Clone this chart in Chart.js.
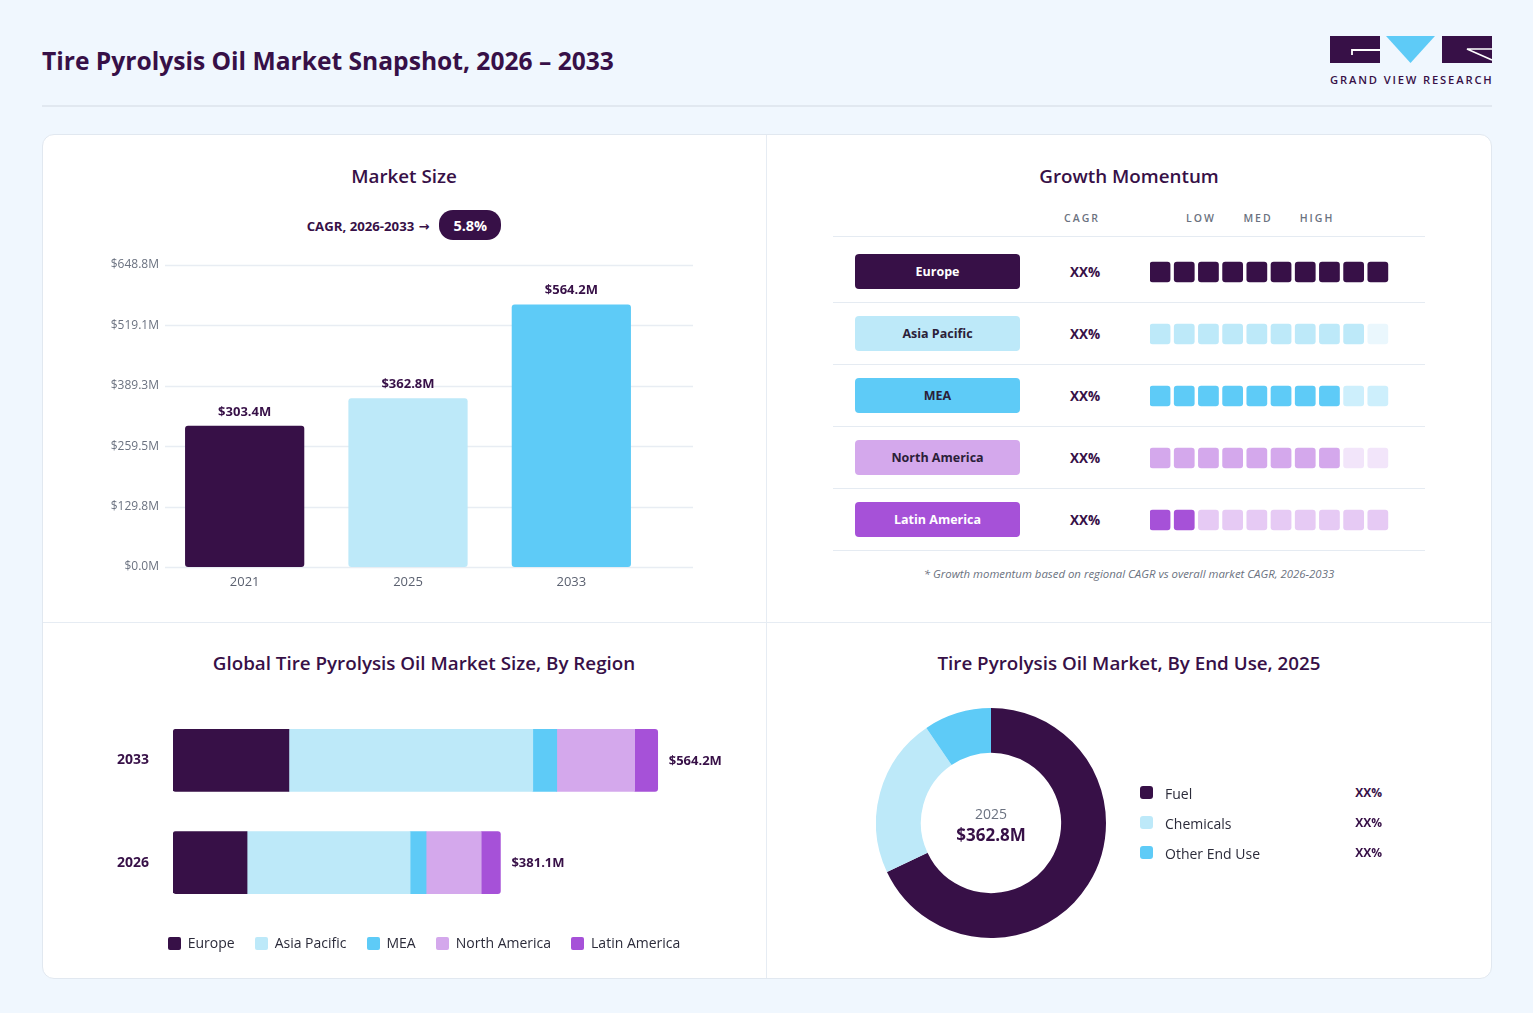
<!DOCTYPE html>
<html><head><meta charset="utf-8">
<script src="https://cdn.jsdelivr.net/npm/chart.js@4.4.1/dist/chart.umd.min.js"></script>
<style>
*{box-sizing:border-box;margin:0;padding:0}
body{width:1533px;height:1013px;background:#f0f7fe;font-family:"Open Sans","Noto Sans",sans-serif;color:#371047;position:relative;overflow:hidden}
.abs{position:absolute}
#title{left:42px;top:44px;font-size:24.6px;font-weight:700;white-space:nowrap;line-height:34px}
#sep{left:42px;top:105px;width:1450px;height:2px;background:#e1e8f0}
#card{left:42px;top:134px;width:1450px;height:845px;background:#fff;border:1px solid #e1e8f0;border-radius:12px}
.vdiv{left:766px;top:135px;width:1px;height:843px;background:#e6ecf3}
.hdiv{left:43px;top:622px;width:1448px;height:1px;background:#e6ecf3}
.ptitle{font-size:18.8px;font-weight:600;white-space:nowrap;line-height:24px;transform:translateX(-50%);color:#371047}
#cagrRow{left:42px;top:210px;width:724px;height:30px;display:flex;justify-content:center;align-items:center;gap:10px}
#cagrRow .lbl{font-size:13.2px;font-weight:700}
#cagrRow .arr{font-family:"DejaVu Sans",sans-serif;font-size:13px;font-weight:700}
#cagrRow .pill{background:#371047;color:#fff;border-radius:14px;height:30px;width:62px;display:flex;align-items:center;justify-content:center;font-size:14.5px;font-weight:700}
.hdr{font-size:10.5px;font-weight:600;letter-spacing:2px;color:#6b7280;transform:translateX(-50%);top:210px;line-height:16px}
.rowline{left:833px;width:592px;height:1px;background:#e5ebf2}
.rpill{left:855px;width:165px;height:35px;border-radius:4px;display:flex;align-items:center;justify-content:center;font-size:12.5px;font-weight:700}
.xx{font-size:13.5px;font-weight:700;transform:translateX(-50%);line-height:20px}
#foot{left:1129px;top:566px;transform:translateX(-50%);font-size:11.4px;font-style:italic;color:#6b7280;white-space:nowrap;line-height:16px}
#regLegend{left:42px;top:933px;width:764px;display:flex;justify-content:center;gap:20px;font-size:14px;color:#2b2b3a;line-height:20px}
#regLegend .it{display:flex;align-items:center;gap:7px}
#regLegend .sw{width:13px;height:13px;border-radius:2px}
#donutCenter{left:876px;top:708px;width:230px;height:230px}
#dc1{position:absolute;left:0;width:230px;top:97px;text-align:center;font-size:14px;color:#6b7280;line-height:18px}
#dc2{position:absolute;left:0;width:230px;top:115px;text-align:center;font-size:17px;font-weight:700;color:#371047;line-height:24px}
.dl-sw{left:1140px;width:13px;height:13px;border-radius:3px}
.dl-t{left:1165px;font-size:14px;color:#2b2b3a;line-height:20px}
.dl-v{left:1300px;width:82px;text-align:right;font-size:12px;font-weight:700;line-height:20px}
#logoTxt{left:1330px;top:72px;font-size:11.2px;font-weight:600;letter-spacing:1.85px;white-space:nowrap;line-height:16px;color:#371047}
canvas{position:absolute}
</style></head>
<body>
<div id="title" class="abs">Tire Pyrolysis Oil Market Snapshot, 2026 – 2033</div>
<svg class="abs" style="left:1330px;top:36px" width="163" height="28" viewBox="0 0 163 28">
  <rect x="0" y="0" width="50" height="27" fill="#371047"/>
  <path d="M22,19 L22,14 L50,14" stroke="#fff" stroke-width="1.8" fill="none"/>
  <polygon points="56,0 105,0 80.5,27" fill="#5ecbf7"/>
  <rect x="112" y="0" width="50" height="27" fill="#371047"/>
  <path d="M162,13 L137,13 L162,24" stroke="#fff" stroke-width="1.6" fill="none"/>
</svg>
<div id="logoTxt" class="abs">GRAND VIEW RESEARCH</div>
<div id="sep" class="abs"></div>
<div id="card" class="abs"></div>
<div class="abs vdiv"></div>
<div class="abs hdiv"></div>

<div class="abs ptitle" style="left:404px;top:164px">Market Size</div>
<div class="abs ptitle" style="left:1129px;top:164px">Growth Momentum</div>
<div class="abs ptitle" style="left:424px;top:651px">Global Tire Pyrolysis Oil Market Size, By Region</div>
<div class="abs ptitle" style="left:1129px;top:651px">Tire Pyrolysis Oil Market, By End Use, 2025</div>

<div id="cagrRow" class="abs"><span><span class="lbl" id="cagrLbl"></span> <span class="arr">&#8594;</span></span><span class="pill" id="cagrVal"></span></div>

<div id="momentum"></div>
<div id="foot" class="abs">* Growth momentum based on regional CAGR vs overall market CAGR, 2026-2033</div>

<canvas id="sizeChart" width="620" height="342" style="left:88px;top:250px"></canvas>
<canvas id="momChart" width="242" height="310" style="left:1150px;top:241px"></canvas>
<canvas id="regChart" width="640" height="269" style="left:100px;top:677px"></canvas>
<div id="regLegend" class="abs"></div>
<canvas id="donutChart" width="230" height="230" style="left:876px;top:708px"></canvas>
<div id="donutCenter" class="abs"><div id="dc1"></div><div id="dc2"></div></div>
<div id="donutLegend"></div>

<script>
// ---------- DATA ----------
const cagrLabel = 'CAGR, 2026-2033';
const cagrValue = '5.8%';

const sizeYears = ['2021', '2025', '2033'];
const sizeValues = [303.4, 362.8, 564.2];
const sizeLabels = ['$303.4M', '$362.8M', '$564.2M'];
const sizeColors = ['#371047', '#bde9f9', '#5ecbf7'];
const sizeTickValues = [0, 129.76, 259.52, 389.28, 519.04, 648.8];
const sizeTickLabels = ['$0.0M', '$129.8M', '$259.5M', '$389.3M', '$519.1M', '$648.8M'];

const momentumHeaders = ['CAGR', 'LOW', 'MED', 'HIGH'];
const momentumRegions = ['Europe', 'Asia Pacific', 'MEA', 'North America', 'Latin America'];
const momentumCagr = ['XX%', 'XX%', 'XX%', 'XX%', 'XX%'];
const momentumLevels = [10, 9, 8, 8, 2];
const momentumSteps = 10;
const momentumFull = ['#371047', '#bde9f9', '#5ecbf7', '#d4a8ec', '#a651d8'];
const momentumFaded = ['#371047', '#eaf7fd', '#cdeffc', '#f2e5fa', '#e6caf4'];
const momentumTextColor = ['#ffffff', '#2b2038', '#2b2038', '#2b2038', '#ffffff'];

const regionYears = ['2033', '2026'];
const regionNames = ['Europe', 'Asia Pacific', 'MEA', 'North America', 'Latin America'];
const regionColors = ['#371047', '#bde9f9', '#5ecbf7', '#d4a8ec', '#a651d8'];
const regionEurope = [134.9, 86.2];
const regionAsiaPacific = [283.9, 189.8];
const regionMEA = [27.9, 18.6];
const regionNorthAmerica = [90.7, 64.2];
const regionLatinAmerica = [26.8, 22.3];
const regionTotals = ['$564.2M', '$381.1M'];

const endUseYear = '2025';
const endUseTotal = '$362.8M';
const endUseLabels = ['Fuel', 'Chemicals', 'Other End Use'];
const endUseValues = [68, 22.5, 9.5];
const endUseShares = ['XX%', 'XX%', 'XX%'];
const endUseColors = ['#371047', '#bde9f9', '#5ecbf7'];

// ---------- HTML PARTS ----------
document.getElementById('cagrLbl').textContent = cagrLabel;
document.getElementById('cagrVal').textContent = cagrValue;

const mom = document.getElementById('momentum');
const hdrX = [1082, 1201, 1258, 1317];
momentumHeaders.forEach((h, i) => {
  const d = document.createElement('div');
  d.className = 'abs hdr'; d.style.left = hdrX[i] + 'px'; d.textContent = h; mom.appendChild(d);
});
[236, 302, 364, 426, 488, 550].forEach(y => {
  const l = document.createElement('div'); l.className = 'abs rowline'; l.style.top = y + 'px'; mom.appendChild(l);
});
momentumRegions.forEach((r, k) => {
  const p = document.createElement('div');
  p.className = 'abs rpill';
  p.style.top = (254 + 62 * k) + 'px';
  p.style.background = momentumFull[k];
  p.style.color = momentumTextColor[k];
  p.textContent = r; mom.appendChild(p);
  const x = document.createElement('div');
  x.className = 'abs xx'; x.style.left = '1085px'; x.style.top = (262 + 62 * k) + 'px';
  x.textContent = momentumCagr[k]; mom.appendChild(x);
});

const rl = document.getElementById('regLegend');
regionNames.forEach((n, i) => {
  const it = document.createElement('div'); it.className = 'it';
  it.innerHTML = '<span class="sw" style="background:' + regionColors[i] + '"></span><span>' + n + '</span>';
  rl.appendChild(it);
});

document.getElementById('dc1').textContent = endUseYear;
document.getElementById('dc2').textContent = endUseTotal;
const dl = document.getElementById('donutLegend');
endUseLabels.forEach((n, i) => {
  const y = 786 + 30 * i;
  dl.insertAdjacentHTML('beforeend',
    '<div class="abs dl-sw" style="top:' + y + 'px;background:' + endUseColors[i] + '"></div>' +
    '<div class="abs dl-t" style="top:' + (y - 2) + 'px">' + n + '</div>' +
    '<div class="abs dl-v" style="top:' + (y - 3) + 'px">' + endUseShares[i] + '</div>');
});

// ---------- CHARTS ----------
Chart.defaults.font.family = '"Open Sans","Noto Sans",sans-serif';
Chart.defaults.animation = false;

const sizeGrid = {
  id: 'sizeGrid',
  beforeDatasetsDraw(chart) {
    const {ctx, chartArea, scales: {y}} = chart;
    ctx.save();
    ctx.strokeStyle = '#e8edf3'; ctx.lineWidth = 1.5;
    y.ticks.forEach(t => {
      const py = Math.round(y.getPixelForValue(t.value)) + 0.5;
      ctx.beginPath(); ctx.moveTo(chartArea.left + 2, py); ctx.lineTo(chartArea.right + 40, py); ctx.stroke();
    });
    ctx.restore();
  }
};
const sizeValueLabels = {
  id: 'sizeValueLabels',
  afterDatasetsDraw(chart) {
    const {ctx} = chart;
    const meta = chart.getDatasetMeta(0);
    ctx.save();
    ctx.font = 'bold 13px "Open Sans","Noto Sans",sans-serif';
    ctx.fillStyle = '#371047'; ctx.textAlign = 'center'; ctx.textBaseline = 'alphabetic';
    meta.data.forEach((b, i) => ctx.fillText(sizeLabels[i], b.x, b.y - 10));
    ctx.restore();
  }
};
new Chart(document.getElementById('sizeChart'), {
  type: 'bar',
  data: {labels: sizeYears, datasets: [{data: sizeValues, backgroundColor: sizeColors, borderRadius: 3, borderSkipped: false, barPercentage: 0.73, categoryPercentage: 1}]},
  options: {
    responsive: false, animation: false,
    layout: {padding: {top: 15, right: 55, left: 0, bottom: 0}},
    plugins: {legend: {display: false}, tooltip: {enabled: false}},
    scales: {
      x: {grid: {display: false, drawTicks: false}, border: {display: false},
          ticks: {color: '#5b6170', font: {size: 13}, padding: 7}, afterFit: s => { s.height = 25; }},
      y: {min: 0, max: 648.8, grid: {display: false, drawTicks: false}, border: {display: false},
          afterBuildTicks: s => { s.ticks = sizeTickValues.map(v => ({value: v})); },
          ticks: {color: '#6b7280', font: {size: 12}, padding: 4, callback: (v, i) => sizeTickLabels[i]},
          afterFit: s => { s.width = 75; }}
    }
  },
  plugins: [sizeGrid, sizeValueLabels]
});

new Chart(document.getElementById('momChart'), {
  type: 'bar',
  data: {
    labels: momentumRegions,
    datasets: Array.from({length: momentumSteps}, (_, i) => ({
      data: momentumRegions.map(() => [i, i + 0.83]),
      backgroundColor: momentumRegions.map((r, k) => i < momentumLevels[k] ? momentumFull[k] : momentumFaded[k]),
      grouped: false, barThickness: 20, borderRadius: 3, borderSkipped: false
    }))
  },
  options: {
    indexAxis: 'y', responsive: false, animation: false, layout: {padding: 0},
    plugins: {legend: {display: false}, tooltip: {enabled: false}},
    scales: {x: {display: false, min: 0, max: momentumSteps}, y: {display: false}}
  }
});

const regionSeries = [regionEurope, regionAsiaPacific, regionMEA, regionNorthAmerica, regionLatinAmerica];
const regionTotalLabels = {
  id: 'regionTotalLabels',
  afterDatasetsDraw(chart) {
    const {ctx} = chart;
    const meta = chart.getDatasetMeta(regionSeries.length - 1);
    ctx.save();
    ctx.font = 'bold 13px "Open Sans","Noto Sans",sans-serif';
    ctx.fillStyle = '#371047'; ctx.textAlign = 'left'; ctx.textBaseline = 'middle';
    meta.data.forEach((b, i) => ctx.fillText(regionTotals[i], b.x + 11, b.y + 1));
    ctx.restore();
  }
};
new Chart(document.getElementById('regChart'), {
  type: 'bar',
  data: {
    labels: regionYears,
    datasets: regionNames.map((n, i) => ({
      label: n, data: regionSeries[i], backgroundColor: regionColors[i], barThickness: 62, borderSkipped: false,
      borderRadius: i === 0 ? {topLeft: 3, bottomLeft: 3} : (i === regionNames.length - 1 ? {topRight: 3, bottomRight: 3} : 0)
    }))
  },
  options: {
    indexAxis: 'y', responsive: false, animation: false, layout: {padding: 0},
    plugins: {legend: {display: false}, tooltip: {enabled: false}},
    scales: {
      x: {stacked: true, display: false, min: 0, max: 660},
      y: {stacked: true, grid: {display: false, drawTicks: false}, border: {display: false},
          ticks: {color: '#371047', font: {size: 14, weight: 'bold'}, padding: 24}, afterFit: s => { s.width = 73; }}
    }
  },
  plugins: [regionTotalLabels]
});

new Chart(document.getElementById('donutChart'), {
  type: 'doughnut',
  data: {labels: endUseLabels, datasets: [{data: endUseValues, backgroundColor: endUseColors, borderWidth: 0}]},
  options: {responsive: false, animation: false, cutout: '61%', layout: {padding: 0},
    plugins: {legend: {display: false}, tooltip: {enabled: false}}}
});
</script>
</body></html>
